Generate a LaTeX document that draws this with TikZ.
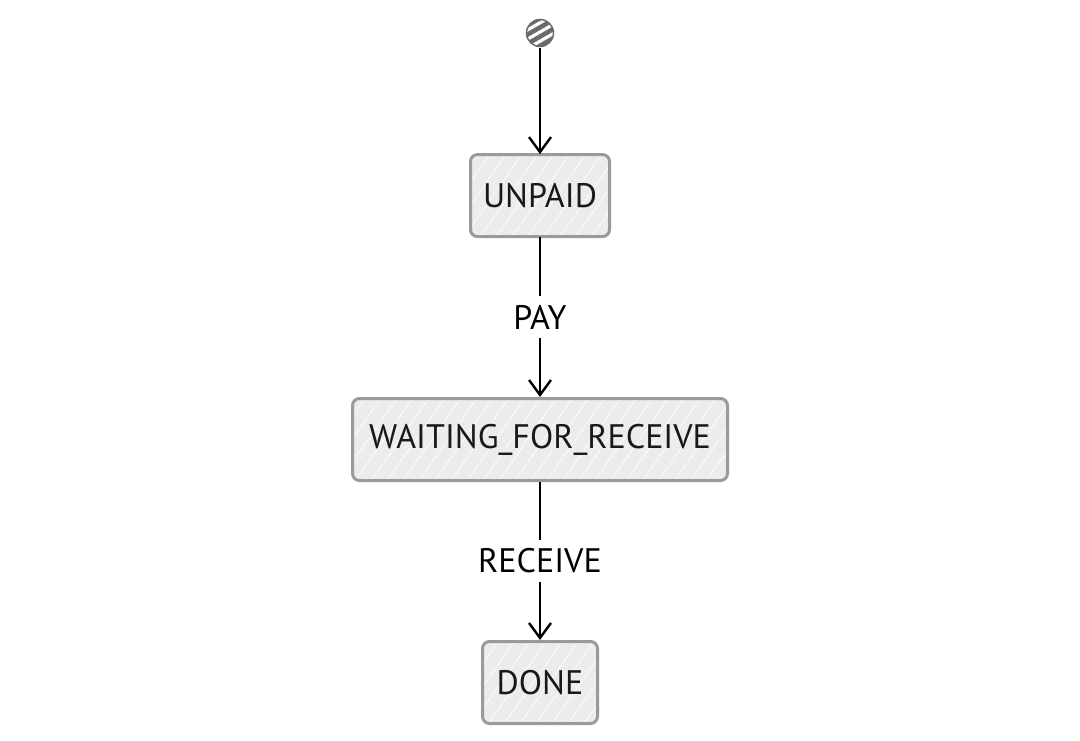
\documentclass[tikz,border=0pt]{standalone}
\usepackage{fontspec}
\setmainfont{PT Sans}
\usetikzlibrary{arrows.meta,positioning,patterns.meta}
\definecolor{boxfill}{HTML}{ECECEC}
\definecolor{boxline}{HTML}{9A9A9A}
\definecolor{startfill}{HTML}{6A6A6A}

\begin{document}
\begin{tikzpicture}[
    x=1pt, y=1pt,
    state/.style={
        draw=boxline,
        line width=3pt,
        rounded corners=7pt,
        align=center,
        minimum height=82pt,
        inner xsep=12pt,
        font=\fontsize{34}{40}\selectfont,
        text=black!90,
        preaction={fill=boxfill},
        pattern={Lines[angle=55,distance=13pt,line width=0.9pt]},
        pattern color=white
    },
    start/.style={
        circle,
        draw=startfill,
        line width=1.5pt,
        minimum size=27pt,
        inner sep=0pt,
        preaction={fill=startfill},
        pattern={Lines[angle=30,distance=8pt,line width=3.2pt]},
        pattern color=white
    },
    arrow/.style={-{Straight Barb[length=15pt,width=22pt,line width=2.4pt]},line width=2pt},
    trans/.style={fill=white,inner xsep=4pt,inner ysep=9pt,font=\fontsize{34}{40}\selectfont}
]
\useasboundingbox (0,0) rectangle (1080,-741);

\node[start] (init) at (540,-33) {};
\node[state, minimum width=139pt, below=106pt of init] (unpaid) {UNPAID};
\node[state, minimum width=375pt, below=160pt of unpaid] (waiting) {WAITING\_FOR\_RECEIVE};
\node[state, minimum width=115pt, below=158pt of waiting] (done) {DONE};

\draw[arrow] (init) -- (unpaid);
\draw[arrow] (unpaid) -- node[trans]{PAY} (waiting);
\draw[arrow] (waiting) -- node[trans]{RECEIVE} (done);

\end{tikzpicture}
\end{document}
